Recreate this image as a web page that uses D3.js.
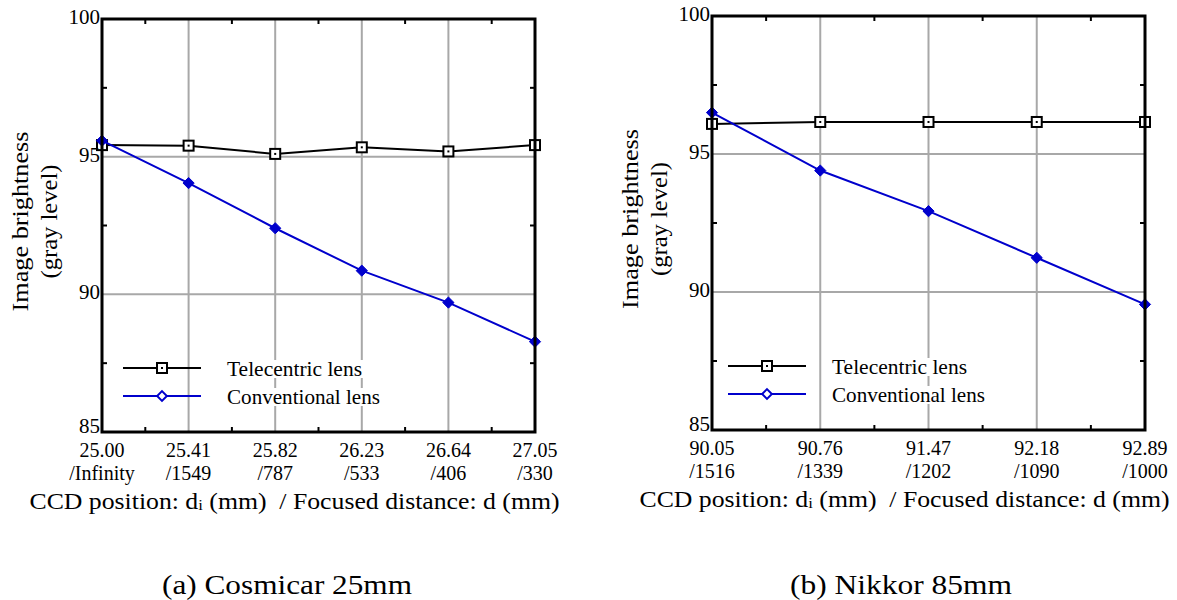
<!DOCTYPE html>
<html>
<head>
<meta charset="utf-8">
<script src="https://cdn.jsdelivr.net/npm/d3@7"></script>
<style>
  body { margin: 0; background: #fff; }
  svg { display: block; }
</style>
</head>
<body>
<svg id="chart" width="1177" height="600"></svg>
<script>
// (a) Cosmicar 25mm
const cosmicarPos = ['25.00', '25.41', '25.82', '26.23', '26.64', '27.05'];
const cosmicarDist = ['/Infinity', '/1549', '/787', '/533', '/406', '/330'];
const cosmicarTele = [95.42, 95.40, 95.10, 95.34, 95.19, 95.42];
const cosmicarConv = [95.58, 94.04, 92.40, 90.86, 89.70, 88.28];

// (b) Nikkor 85mm
const nikkorPos = ['90.05', '90.76', '91.47', '92.18', '92.89'];
const nikkorDist = ['/1516', '/1339', '/1202', '/1090', '/1000'];
const nikkorTele = [96.09, 96.16, 96.16, 96.16, 96.16];
const nikkorConv = [96.50, 94.40, 92.93, 91.24, 89.55];

const yDomain = [85, 100];
const yMajor = [85, 90, 95, 100];
const yMinor = [87.5, 92.5, 97.5];
const seriesNames = ['Telecentric lens', 'Conventional lens'];

const BLUE = '#0000cc';
const GRID = '#a8a8a8';
const FONT = "'Liberation Serif', Tinos, 'Times New Roman', Times, 'Noto Serif', 'DejaVu Serif', serif";

const svg = d3.select('#chart').style('font-family', FONT);

// Draws one panel: frame, grid, ticks, two series, legend and captions.
function drawPanel(p) {
  const g = svg.append('g').style('font-family', FONT);
  const x = d3.scalePoint().domain(p.pos).range([p.left, p.right]);
  const y = d3.scaleLinear().domain(yDomain).range([p.bottom, p.top]);

  // grid lines
  g.selectAll('line.vgrid')
    .data(p.pos.slice(1, -1))
    .enter().append('line')
    .attr('x1', d => x(d)).attr('x2', d => x(d))
    .attr('y1', p.top).attr('y2', p.bottom)
    .attr('stroke', GRID).attr('stroke-width', 2);
  g.selectAll('line.hgrid')
    .data(yMajor.slice(1, -1))
    .enter().append('line')
    .attr('x1', p.left).attr('x2', p.right)
    .attr('y1', d => y(d)).attr('y2', d => y(d))
    .attr('stroke', GRID).attr('stroke-width', 2);

  // minor ticks, pointing inward on all four sides
  const step = x.step();
  const xMinor = p.pos.slice(0, -1).map(d => x(d) + step / 2);
  const tl = 5;
  xMinor.forEach(xm => {
    g.append('line').attr('x1', xm).attr('x2', xm).attr('y1', p.top).attr('y2', p.top + tl)
      .attr('stroke', '#000').attr('stroke-width', 2);
    g.append('line').attr('x1', xm).attr('x2', xm).attr('y1', p.bottom).attr('y2', p.bottom - tl)
      .attr('stroke', '#000').attr('stroke-width', 2);
  });
  yMinor.forEach(v => {
    g.append('line').attr('x1', p.left).attr('x2', p.left + tl).attr('y1', y(v)).attr('y2', y(v))
      .attr('stroke', '#000').attr('stroke-width', 2);
    g.append('line').attr('x1', p.right).attr('x2', p.right - tl).attr('y1', y(v)).attr('y2', y(v))
      .attr('stroke', '#000').attr('stroke-width', 2);
  });

  // legend (white boxes behind the text hide the grid)
  const legY = [p.bottom - 64, p.bottom - 36];
  const lx0 = p.left + p.legOff;
  seriesNames.forEach((name, i) => {
    const t = g.append('text')
      .attr('x', lx0 + 104).attr('y', legY[i] + 8)
      .style('font-size', '21px')
      .attr('textLength', i === 0 ? 135 : 153)
      .attr('lengthAdjust', 'spacingAndGlyphs')
      .text(name);
    const bb = t.node().getBBox();
    g.insert('rect', function () { return t.node(); })
      .attr('x', bb.x - 1).attr('y', bb.y + 3)
      .attr('width', bb.width + 2).attr('height', bb.height - 6)
      .attr('fill', '#fff');
    g.append('line')
      .attr('x1', lx0).attr('x2', lx0 + 78)
      .attr('y1', legY[i]).attr('y2', legY[i])
      .attr('stroke', i === 0 ? '#000' : BLUE).attr('stroke-width', 2);
    if (i === 0) {
      g.append('rect').attr('x', lx0 + 39 - 5).attr('y', legY[i] - 5)
        .attr('width', 10).attr('height', 10)
        .attr('fill', '#fff').attr('stroke', '#000').attr('stroke-width', 2);
      g.append('rect').attr('x', lx0 + 38).attr('y', legY[i] - 1)
        .attr('width', 2).attr('height', 2).attr('fill', '#000');
    } else {
      g.append('path')
        .attr('d', d3.symbol(d3.symbolDiamond2, 60)())
        .attr('transform', `translate(${lx0 + 39},${legY[i]})`)
        .attr('fill', '#fff').attr('stroke', BLUE).attr('stroke-width', 2);
    }
  });

  // series
  const line = d3.line().x(d => x(d[0])).y(d => y(d[1]));
  const tele = p.pos.map((c, i) => [c, p.tele[i]]);
  const conv = p.pos.map((c, i) => [c, p.conv[i]]);

  g.append('path').attr('d', line(tele))
    .attr('fill', 'none').attr('stroke', '#000').attr('stroke-width', 2);
  g.selectAll('rect.tele')
    .data(tele).enter().append('rect')
    .attr('x', d => x(d[0]) - 5).attr('y', d => y(d[1]) - 5)
    .attr('width', 10).attr('height', 10)
    .attr('fill', '#fff').attr('stroke', '#000').attr('stroke-width', 2);
  g.selectAll('rect.teledot')
    .data(tele).enter().append('rect')
    .attr('x', d => x(d[0]) - 1).attr('y', d => y(d[1]) - 1)
    .attr('width', 2).attr('height', 2).attr('fill', '#000');

  g.append('path').attr('d', line(conv))
    .attr('fill', 'none').attr('stroke', BLUE).attr('stroke-width', 2);
  g.selectAll('path.conv')
    .data(conv).enter().append('path')
    .attr('d', d3.symbol(d3.symbolDiamond2, 80)())
    .attr('transform', d => `translate(${x(d[0])},${y(d[1])})`)
    .attr('fill', BLUE).attr('stroke', BLUE).attr('stroke-width', 1);

  // frame
  g.append('rect')
    .attr('x', p.left).attr('y', p.top)
    .attr('width', p.right - p.left).attr('height', p.bottom - p.top)
    .attr('fill', 'none').attr('stroke', '#000').attr('stroke-width', 3);

  // y tick labels
  g.selectAll('text.ylab')
    .data(yMajor).enter().append('text')
    .attr('x', p.left - 2).attr('y', d => y(d) + (d === 85 ? 1 : 5))
    .attr('text-anchor', 'end')
    .style('font-size', '21px')
    .text(d => d);

  // x tick labels, two lines
  g.selectAll('text.xlab')
    .data(p.pos).enter().append('text')
    .attr('x', d => x(d)).attr('y', p.bottom + 25)
    .attr('text-anchor', 'middle')
    .style('font-size', '20px')
    .text(d => d);
  g.selectAll('text.xlab2')
    .data(p.dist).enter().append('text')
    .attr('x', (d, i) => x(p.pos[i])).attr('y', p.bottom + 48)
    .attr('text-anchor', 'middle')
    .style('font-size', '20px')
    .text(d => d);

  // axis titles
  const yc = (p.top + p.bottom) / 2 - 4;
  g.append('text')
    .attr('transform', `translate(${p.left - 74},${yc}) rotate(-90)`)
    .attr('text-anchor', 'middle')
    .style('font-size', '24px')
    .attr('textLength', 180).attr('lengthAdjust', 'spacingAndGlyphs')
    .text('Image brightness');
  g.append('text')
    .attr('transform', `translate(${p.left - 45},${yc}) rotate(-90)`)
    .attr('text-anchor', 'middle')
    .style('font-size', '24px')
    .attr('textLength', 114).attr('lengthAdjust', 'spacingAndGlyphs')
    .text('(gray level)');

  const xt = g.append('text')
    .attr('x', (p.left + p.right) / 2 - 24).attr('y', p.bottom + 77)
    .attr('text-anchor', 'middle')
    .style('font-size', '23px')
    .attr('textLength', 530).attr('lengthAdjust', 'spacingAndGlyphs');
  xt.append('tspan').text('CCD position: d');
  xt.append('tspan').style('font-size', '15px').attr('dy', 1).text('i');
  xt.append('tspan').attr('dy', -1).text('\u00a0(mm) \u00a0/ Focused distance: d (mm)');

  g.append('text')
    .attr('x', p.caption).attr('y', 594)
    .attr('text-anchor', 'middle')
    .style('font-size', '27px')
    .attr('textLength', p.capLen).attr('lengthAdjust', 'spacingAndGlyphs')
    .text(p.title);
}

drawPanel({
  pos: cosmicarPos, dist: cosmicarDist, tele: cosmicarTele, conv: cosmicarConv,
  left: 102, right: 535, top: 19, bottom: 432, legOff: 21,
  caption: 287, capLen: 250, title: '(a) Cosmicar 25mm'
});
drawPanel({
  pos: nikkorPos, dist: nikkorDist, tele: nikkorTele, conv: nikkorConv,
  left: 712, right: 1145, top: 16, bottom: 430, legOff: 16,
  caption: 901, capLen: 222, title: '(b) Nikkor 85mm'
});
</script>
</body>
</html>
